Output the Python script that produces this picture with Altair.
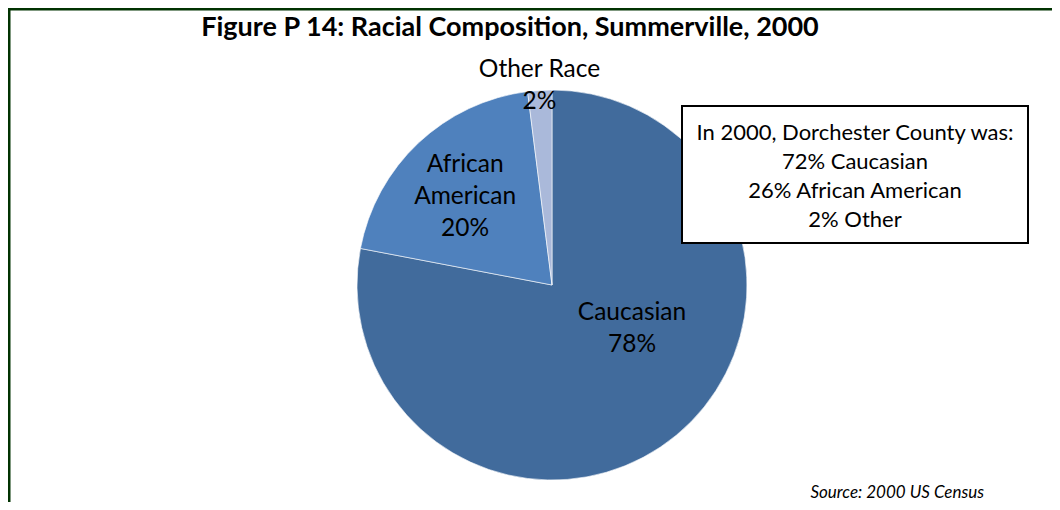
import altair as alt
import pandas as pd

# ---- data ----
categories = ["Caucasian", "African American", "Other Race"]
shares = [78, 20, 2]
label_lines = ["Caucasian", "African\nAmerican", "Other Race"]
colors = ["#416B9C", "#4F81BD", "#AAB9DA"]
title_text = "Figure P 14: Racial Composition, Summerville, 2000"
county_lines = ["In 2000, Dorchester County was:", "72% Caucasian",
                "26% African American", "2% Other"]
source_text = "Source: 2000 US Census"

FONT = "Lato"
W, H = 1044, 494
CX, CY, R = 544, 277, 195
LBL_SIZE, LBL_LH = 24.5, 32
BOX_LH = 29

df = pd.DataFrame({
    "category": categories,
    "share": shares,
    "idx": list(range(len(categories))),
    "label": [f"{l}\n{s}%" for l, s in zip(label_lines, shares)],
})

base = alt.Chart(df).encode(
    theta=alt.Theta("share:Q", stack=True),
    order=alt.Order("idx:Q", sort="ascending"),
    x=alt.value(CX),
    y=alt.value(CY),
)

pie = base.mark_arc(outerRadius=R, stroke="white", strokeWidth=0.6).encode(
    color=alt.Color("category:N", scale=alt.Scale(domain=categories, range=colors), legend=None)
)


def label_layer(cat, r, dx, dy, nlines):
    return base.mark_text(
        radius=r, dx=dx, dy=dy - (nlines - 1) / 2 * LBL_LH, font=FONT, fontSize=LBL_SIZE,
        lineBreak="\n", lineHeight=LBL_LH, color="black", align="center", baseline="middle"
    ).encode(text=alt.condition(f"datum.category == '{cat}'", alt.Text("label:N"), alt.value("")))


labels = [
    label_layer("Caucasian", 91, 22, -26, 2),
    label_layer("African American", 124, -2, 2, 3),
    label_layer("Other Race", 199, 0, 0, 2),
]

one = pd.DataFrame({"k": [0]})

box = alt.Chart(one).mark_rect(fill="white", stroke="black", strokeWidth=2).encode(
    x=alt.value(674), x2=alt.value(1020), y=alt.value(98), y2=alt.value(235)
)
box_text = alt.Chart(one).transform_calculate(t="'" + "\\n".join(county_lines) + "'").mark_text(
    font=FONT, fontSize=22, lineBreak="\n", lineHeight=BOX_LH, align="center", baseline="middle", color="black"
).encode(x=alt.value(847), y=alt.value(168 - (len(county_lines) - 1) / 2 * BOX_LH), text="t:N")

title = alt.Chart(one).mark_text(
    font=FONT, fontSize=27, fontWeight="bold", align="center", baseline="middle", color="black"
).encode(x=alt.value(502), y=alt.value(20), text=alt.value(title_text))

source = alt.Chart(one).mark_text(
    font=FONT, fontSize=17, fontStyle="italic", align="right", baseline="middle", color="black"
).encode(x=alt.value(976), y=alt.value(485), text=alt.value(source_text))

top_rule = alt.Chart(one).mark_rule(color="#013301", strokeWidth=3).encode(
    x=alt.value(0), x2=alt.value(W), y=alt.value(1)
)
left_rule = alt.Chart(one).mark_rule(color="#013301", strokeWidth=3).encode(
    x=alt.value(1), y=alt.value(0), y2=alt.value(H)
)

chart = alt.layer(pie, box, box_text, *labels, title, source, top_rule, left_rule).properties(
    width=W, height=H, padding=0, autosize=alt.AutoSizeParams(type="none")
).configure_view(stroke=None)

chart.save("out.html", embed_options={"renderer": "svg", "actions": False})
